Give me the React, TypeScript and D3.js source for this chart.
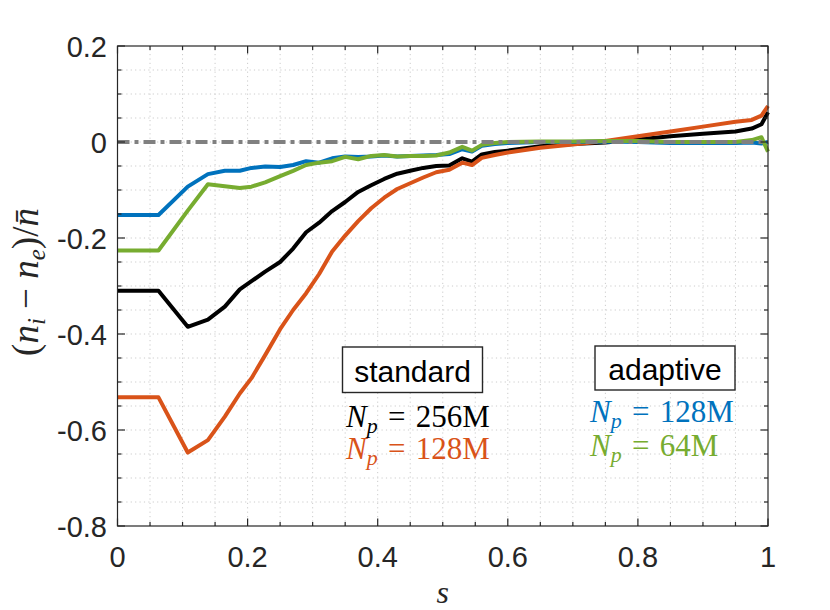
import React, { useEffect, useRef } from 'react';
import * as d3 from 'd3';

// sample positions along s (shared by all four curves)
const sGrid = [
  0, 0.063, 0.108, 0.139, 0.165, 0.188, 0.206, 0.227, 0.25, 0.27, 0.29, 0.31, 0.33, 0.35, 0.37,
  0.39, 0.41, 0.43, 0.45, 0.47, 0.49, 0.51, 0.53, 0.545, 0.56, 0.58, 0.6, 0.65, 0.7, 0.75, 0.8,
  0.85, 0.9, 0.95, 0.975, 0.99, 1.0,
];

// standard, Np = 256M
const blackVals = [
  -0.31, -0.31, -0.385, -0.37, -0.343, -0.307, -0.29, -0.27, -0.25, -0.222, -0.188, -0.168, -0.144,
  -0.125, -0.104, -0.09, -0.077, -0.066, -0.06, -0.054, -0.05, -0.049, -0.034, -0.041, -0.026,
  -0.021, -0.018, -0.009, -0.004, -0.001, 0.005, 0.012, 0.017, 0.022, 0.028, 0.037, 0.062,
];

// standard, Np = 128M
const orangeVals = [
  -0.532, -0.532, -0.647, -0.621, -0.572, -0.524, -0.492, -0.444, -0.39, -0.35, -0.315, -0.275,
  -0.228, -0.195, -0.165, -0.138, -0.116, -0.098, -0.086, -0.074, -0.063, -0.058, -0.043, -0.048,
  -0.033, -0.027, -0.022, -0.012, -0.005, 0.002, 0.012, 0.022, 0.032, 0.042, 0.046, 0.055, 0.075,
];

// adaptive, Np = 128M
const blueVals = [
  -0.152, -0.152, -0.093, -0.067, -0.06, -0.06, -0.054, -0.051, -0.052, -0.048, -0.04, -0.043,
  -0.034, -0.03, -0.031, -0.03, -0.028, -0.03, -0.029, -0.028, -0.027, -0.025, -0.015, -0.02,
  -0.008, -0.004, -0.002, 0.0, 0.0, 0.001, 0.0, -0.002, -0.002, -0.002, -0.001, -0.003, 0.0,
];

// adaptive, Np = 64M
const greenVals = [
  -0.226, -0.226, -0.143, -0.088, -0.092, -0.096, -0.093, -0.084, -0.071, -0.06, -0.048, -0.043,
  -0.04, -0.031, -0.036, -0.029, -0.027, -0.03, -0.029, -0.029, -0.028, -0.022, -0.01, -0.018,
  -0.006, -0.002, 0.0, 0.001, 0.001, 0.002, 0.002, 0.0, 0.0, 0.0, 0.004, 0.01, -0.02,
];

const xTicks = [0, 0.2, 0.4, 0.6, 0.8, 1];
const xTickLabels = ['0', '0.2', '0.4', '0.6', '0.8', '1'];
const yTicks = [0.2, 0, -0.2, -0.4, -0.6, -0.8];
const yTickLabels = ['0.2', '0', '-0.2', '-0.4', '-0.6', '-0.8'];

const series = [
  { vals: blackVals, color: '#000000' },
  { vals: orangeVals, color: '#D95319' },
  { vals: blueVals, color: '#0072BD' },
  { vals: greenVals, color: '#77AC30' },
];

const App: React.FC = () => {
  const svgRef = useRef<SVGSVGElement | null>(null);

  useEffect(() => {
    const svg = d3.select(svgRef.current);
    svg.selectAll('*').remove();

    const margin = { left: 117.5, right: 62, top: 46, bottom: 84 };
    const width = 830;
    const height = 610;
    const axisColor = '#262626';
    const sans = '"Liberation Sans", Arial, sans-serif';
    const serif = '"Liberation Serif", "Times New Roman", serif';

    const x = d3.scaleLinear().domain([0, 1]).range([margin.left, width - margin.right]);
    const y = d3.scaleLinear().domain([-0.8, 0.2]).range([height - margin.bottom, margin.top]);
    const [x0, x1] = x.range();
    const [y0, y1] = y.range();

    const minorX = d3.range(0, 1.0001, 0.05).filter((v) => Math.abs(v * 5 - Math.round(v * 5)) > 1e-6);
    const minorY = d3.range(-0.8, 0.2001, 0.05).filter((v) => Math.abs(v * 5 - Math.round(v * 5)) > 1e-6);

    // grid (major + minor, dotted)
    const grid = svg.append('g').attr('stroke', '#cccccc').attr('stroke-width', 1).attr('stroke-dasharray', '1.2,3.2');
    [...minorX, ...xTicks.slice(1, -1)].forEach((v) => {
      grid.append('line').attr('x1', x(v)).attr('x2', x(v)).attr('y1', y0).attr('y2', y1);
    });
    [...minorY, ...yTicks.slice(1, -1)].forEach((v) => {
      grid.append('line').attr('x1', x0).attr('x2', x1).attr('y1', y(v)).attr('y2', y(v));
    });

    // curves
    const line = d3
      .line<number>()
      .x((_, i) => x(sGrid[i]))
      .y((d) => y(d));

    series.forEach((s) => {
      svg
        .append('path')
        .attr('d', line(s.vals))
        .attr('fill', 'none')
        .attr('stroke', s.color)
        .attr('stroke-width', 4)
        .attr('stroke-linejoin', 'round');
    });

    // zero reference line
    svg
      .append('line')
      .attr('x1', x0)
      .attr('x2', x1)
      .attr('y1', y(0))
      .attr('y2', y(0))
      .attr('stroke', '#808080')
      .attr('stroke-width', 4)
      .attr('stroke-dasharray', '12,5,4,5');

    // box + ticks
    const ax = svg.append('g').attr('stroke', axisColor).attr('stroke-width', 1.2);
    ax.append('rect')
      .attr('x', x0)
      .attr('y', y1)
      .attr('width', x1 - x0)
      .attr('height', y0 - y1)
      .attr('fill', 'none');
    xTicks.forEach((v) => {
      ax.append('line').attr('x1', x(v)).attr('x2', x(v)).attr('y1', y0).attr('y2', y0 - 7.5);
      ax.append('line').attr('x1', x(v)).attr('x2', x(v)).attr('y1', y1).attr('y2', y1 + 7.5);
    });
    minorX.forEach((v) => {
      ax.append('line').attr('x1', x(v)).attr('x2', x(v)).attr('y1', y0).attr('y2', y0 - 4);
      ax.append('line').attr('x1', x(v)).attr('x2', x(v)).attr('y1', y1).attr('y2', y1 + 4);
    });
    yTicks.forEach((v) => {
      ax.append('line').attr('x1', x0).attr('x2', x0 + 7.5).attr('y1', y(v)).attr('y2', y(v));
      ax.append('line').attr('x1', x1).attr('x2', x1 - 7.5).attr('y1', y(v)).attr('y2', y(v));
    });
    minorY.forEach((v) => {
      ax.append('line').attr('x1', x0).attr('x2', x0 + 4).attr('y1', y(v)).attr('y2', y(v));
      ax.append('line').attr('x1', x1).attr('x2', x1 - 4).attr('y1', y(v)).attr('y2', y(v));
    });

    // tick labels
    xTicks.forEach((v, i) => {
      svg
        .append('text')
        .attr('x', x(v))
        .attr('y', y0 + 41)
        .attr('text-anchor', 'middle')
        .attr('font-family', sans)
        .attr('font-size', 29)
        .attr('fill', axisColor)
        .text(xTickLabels[i]);
    });
    yTicks.forEach((v, i) => {
      svg
        .append('text')
        .attr('x', x0 - 10.5)
        .attr('y', y(v) + 10.5)
        .attr('text-anchor', 'end')
        .attr('font-family', sans)
        .attr('font-size', 29)
        .attr('fill', axisColor)
        .text(yTickLabels[i]);
    });

    // axis labels
    svg
      .append('text')
      .attr('x', (x0 + x1) / 2)
      .attr('y', 603)
      .attr('text-anchor', 'middle')
      .attr('font-family', serif)
      .attr('font-style', 'italic')
      .attr('font-size', 32)
      .attr('fill', axisColor)
      .text('s');

    const yl = svg
      .append('text')
      .attr('transform', `translate(38,282) rotate(-90)`)
      .attr('text-anchor', 'middle')
      .attr('font-family', serif)
      .attr('font-size', 37)
      .attr('fill', axisColor);
    yl.append('tspan').text('(');
    yl.append('tspan').attr('font-style', 'italic').text('n');
    yl.append('tspan').attr('font-style', 'italic').attr('font-size', 25).attr('dy', 7).text('i');
    yl.append('tspan').attr('dy', -7).text(' \u2212 ');
    yl.append('tspan').attr('font-style', 'italic').text('n');
    yl.append('tspan').attr('font-style', 'italic').attr('font-size', 25).attr('dy', 7).text('e');
    yl.append('tspan').attr('dy', -7).text(')/');
    yl.append('tspan').attr('font-style', 'italic').text('n\u0304');

    // annotation boxes
    const boxes = [
      { label: 'standard', x: 342.5, y: 347, w: 140, h: 45.5, base: 382 },
      { label: 'adaptive', x: 595, y: 346, w: 140, h: 44, base: 379.5 },
    ];
    boxes.forEach((b) => {
      svg
        .append('rect')
        .attr('x', b.x)
        .attr('y', b.y)
        .attr('width', b.w)
        .attr('height', b.h)
        .attr('fill', '#ffffff')
        .attr('stroke', axisColor)
        .attr('stroke-width', 1.4);
      svg
        .append('text')
        .attr('x', b.x + b.w / 2)
        .attr('y', b.base)
        .attr('text-anchor', 'middle')
        .attr('font-family', sans)
        .attr('font-size', 30)
        .attr('fill', '#000')
        .text(b.label);
    });

    const notes = [
      { text: '256M', x: 346, y: 427, color: '#000000' },
      { text: '128M', x: 346, y: 459, color: '#D95319' },
      { text: '128M', x: 590, y: 422, color: '#0072BD' },
      { text: '64M', x: 590, y: 456, color: '#77AC30' },
    ];
    notes.forEach((n) => {
      const t = svg
        .append('text')
        .attr('x', n.x)
        .attr('y', n.y)
        .attr('font-family', serif)
        .attr('font-size', 31)
        .attr('fill', n.color);
      t.append('tspan').attr('font-style', 'italic').text('N');
      t.append('tspan').attr('font-style', 'italic').attr('font-size', 22).attr('dy', 6).text('p');
      t.append('tspan').attr('dy', -6).text('\u2004=\u2004' + n.text);
    });
  }, []);

  return (
    <div style={{ position: 'absolute', left: 0, top: 0 }}>
      <svg ref={svgRef} width={830} height={610} style={{ display: 'block', background: '#fff' }}></svg>
    </div>
  );
};

export default App;
